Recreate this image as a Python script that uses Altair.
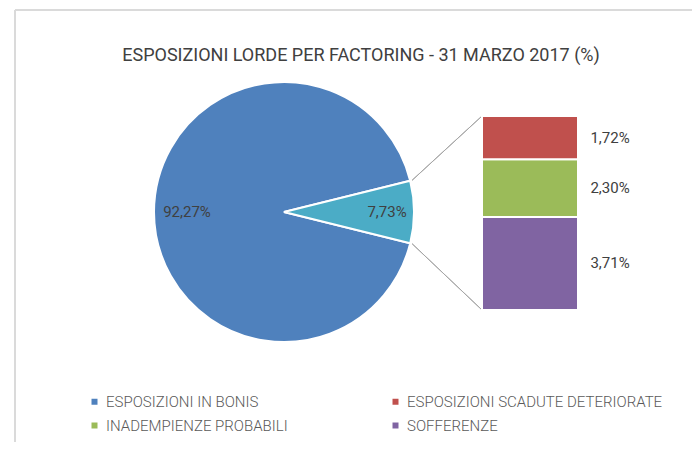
import math
import altair as alt
import pandas as pd

# ---- data ----
pie_cats = ["ESPOSIZIONI IN BONIS", "ESPOSIZIONI DETERIORATE"]
pie_vals = [92.27, 7.73]
bar_cats = ["SOFFERENZE", "INADEMPIENZE PROBABILI", "ESPOSIZIONI SCADUTE DETERIORATE"]
bar_vals = [3.71, 2.30, 1.72]
legend_cats = ["ESPOSIZIONI IN BONIS", "ESPOSIZIONI SCADUTE DETERIORATE",
               "INADEMPIENZE PROBABILI", "SOFFERENZE"]
all_cats = ["ESPOSIZIONI IN BONIS", "ESPOSIZIONI DETERIORATE",
            "ESPOSIZIONI SCADUTE DETERIORATE", "INADEMPIENZE PROBABILI", "SOFFERENZE"]
all_colors = ["#4F81BD", "#4BACC6", "#C0504D", "#9BBB59", "#8064A2"]

# ---- layout (view coordinates; screen = view + 8 (+ top padding)) ----
PAD_TOP = 70
W, H = 684, 434 - PAD_TOP
CX, CY, R = 276, 134, 130
BAR_X0, BAR_X1 = 474, 570
BAR_BOTTOM, BAR_TOP = 232, 38
FONT = "Roboto"
TXT = "#404040"

pie_df = pd.DataFrame({"cat": pie_cats, "v": pie_vals, "ord": [0, 1]})
bar_df = pd.DataFrame({"cat": bar_cats, "v": bar_vals, "ord": [0, 1, 2]})

half = pie_vals[1] * 3.6 / 2
t0 = math.radians(90 + half)
theta_scale = alt.Scale(domain=[0, 100], range=[t0, t0 + 2 * math.pi])
color_scale = alt.Scale(domain=all_cats, range=all_colors)
legend = alt.Legend(
    title=None, orient="none", legendX=79, legendY=316, columns=2, direction="horizontal",
    columnPadding=100, rowPadding=8, values=legend_cats, labelLimit=400,
    symbolType="square", symbolSize=36, symbolStrokeWidth=0, labelOffset=4,
    labelFont=FONT, labelFontSize=15, labelFontWeight=300, labelColor="#595959",
)
y_scale = alt.Scale(domain=[0, sum(bar_vals)], range=[BAR_BOTTOM, BAR_TOP], nice=False, zero=True)

lab_expr = "replace(format(datum.v, '.2f'), '.', ',') + '%'"

pie = alt.Chart(pie_df).mark_arc(outerRadius=R, stroke="white", strokeWidth=2).encode(
    theta=alt.Theta("v:Q", stack=True, scale=theta_scale),
    color=alt.Color("cat:N", scale=color_scale, legend=legend),
    order=alt.Order("ord:Q"),
    x=alt.value(CX), y=alt.value(CY),
)

def pie_label(idx, radius):
    return alt.Chart(pie_df).transform_stack(
        stack="v", groupby=[], as_=["s0", "s1"], sort=[alt.SortField("ord")]
    ).transform_calculate(
        mid="(datum.s0 + datum.s1) / 2", lab=lab_expr
    ).transform_filter(f"datum.ord == {idx}").mark_text(
        radius=radius, font=FONT, fontSize=15, color=TXT, align="center", baseline="middle"
    ).encode(
        theta=alt.Theta("mid:Q", stack=None, scale=theta_scale),
        text="lab:N",
        x=alt.value(CX), y=alt.value(CY),
    )

bar_base = alt.Chart(bar_df).transform_stack(
    stack="v", groupby=[], as_=["y0", "y1"], sort=[alt.SortField("ord")]
).transform_calculate(mid="(datum.y0 + datum.y1) / 2", lab=lab_expr)

bars = bar_base.mark_bar(stroke="white", strokeWidth=2).encode(
    x=alt.value(BAR_X0), x2=alt.value(BAR_X1),
    y=alt.Y("y0:Q", scale=y_scale, axis=None), y2="y1:Q",
    color=alt.Color("cat:N", scale=color_scale, legend=legend),
)
bar_text = bar_base.mark_text(font=FONT, fontSize=15, color=TXT, align="center", baseline="middle").encode(
    x=alt.value(602),
    y=alt.Y("mid:Q", scale=y_scale, axis=None),
    text="lab:N",
)

# connector lines from slice edge to bar corners
rr = R + 2
a1, a2 = math.radians(90 - half), math.radians(90 + half)
p1 = (CX + rr * math.sin(a1), CY - rr * math.cos(a1))
p2 = (CX + rr * math.sin(a2), CY - rr * math.cos(a2))
line_style = dict(color="#A6A6A6", strokeWidth=1)
conn1 = alt.Chart(pie_df).mark_rule(**line_style).encode(
    x=alt.value(p1[0]), y=alt.value(p1[1]), x2=alt.value(BAR_X0), y2=alt.value(BAR_TOP))
conn2 = alt.Chart(pie_df).mark_rule(**line_style).encode(
    x=alt.value(p2[0]), y=alt.value(p2[1]), x2=alt.value(BAR_X0), y2=alt.value(BAR_BOTTOM))

# frame lines
frame_style = dict(color="#DADADA", strokeWidth=2)
top_border = alt.Chart(pie_df).mark_rule(**frame_style).encode(
    x=alt.value(7), x2=alt.value(W), y=alt.value(-68))
left_border = alt.Chart(pie_df).mark_rule(**frame_style).encode(
    x=alt.value(7), y=alt.value(-68), y2=alt.value(H))

chart = alt.layer(
    top_border, left_border, pie, pie_label(0, 97), pie_label(1, 103),
    conn1, conn2, bars, bar_text,
).properties(
    width=W, height=H,
    title=alt.TitleParams(
        "ESPOSIZIONI LORDE PER FACTORING - 31 MARZO 2017 (%)",
        font=FONT, fontSize=18, fontWeight="normal", color=TXT,
        anchor="middle", offset=-56, dx=11, frame="group",
    ),
    autosize=alt.AutoSizeParams(type="none"),
    padding={"top": PAD_TOP, "left": 0, "right": 0, "bottom": 0},
).configure_view(stroke=None)

chart.save("out.html", embed_options={"renderer": "svg", "actions": False})
